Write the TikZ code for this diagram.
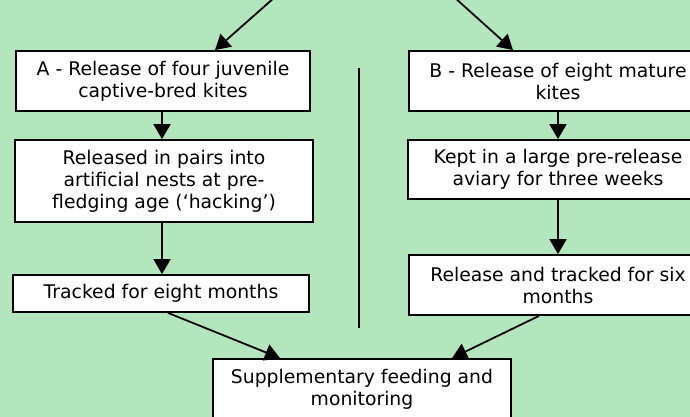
\documentclass[tikz,border=0pt]{standalone}
\usepackage{fontspec}
\setmainfont{DejaVu Sans}
\usetikzlibrary{arrows.meta}
\definecolor{bggreen}{RGB}{180,230,189}

\begin{document}
\begin{tikzpicture}[x=1pt,y=-1pt,
	box/.style={draw,line width=1.8pt,fill=white,align=center,inner sep=0pt,font=\fontsize{18.8}{22}\selectfont},
	arr/.style={line width=1.8pt,-{Triangle[length=15pt,width=17pt]}}]
	
	\useasboundingbox (0,0) rectangle (690,417);
	\clip (0,0) rectangle (690,417);
	\fill[bggreen] (0,0) rectangle (690,417);
	
	% route A
	\node[box,minimum width=294pt,minimum height=60pt] at (163,81) (a1) {A - Release of four juvenile\\captive-bred kites};
	\node[box,minimum width=298pt,minimum height=82pt] at (164,181) (a2) {Released in pairs into\\artificial nests at pre-\\fledging age (‘hacking’)};
	\node[box,minimum width=296pt,minimum height=37pt] at (161,293.5) (a3) {Tracked for eight months};
	
	% route B
	\node[box,minimum width=298pt,minimum height=60pt] at (558,81) (b1) {B - Release of eight mature\\kites};
	\node[box,minimum width=300pt,minimum height=59pt] at (558,169.5) (b2) {Kept in a large pre-release\\aviary for three weeks};
	\node[box,minimum width=298pt,minimum height=60pt] at (558,285) (b3) {Release and tracked for six\\months};
	
	\node[box,minimum width=298pt,minimum height=60pt] at (362,389) (c) {Supplementary feeding and\\monitoring};
	
	\coordinate (topa) at (275,-3);
	\coordinate (topb) at (454,-3);
	
	\draw[arr] (topa) -- ([xshift=52pt]a1.north);
	\draw[arr] (topb) -- ([xshift=-45pt]b1.north);
	\draw[arr] ([xshift=-1pt]a1.south) -- ([xshift=-1pt]a1.south |- a2.north);
	\draw[arr] ([xshift=-2pt]a2.south) -- ([xshift=-2pt]a2.south |- a3.north);
	\draw[arr] (b1) -- (b2);
	\draw[arr] (b2) -- (b3);
	\draw[arr] ([xshift=7pt]a3.south) -- ([xshift=-82pt]c.north);
	\draw[arr] ([xshift=-19pt]b3.south) -- ([xshift=90pt]c.north);
	
	\draw[line width=1.8pt] (359,68) -- (359,328);
\end{tikzpicture}
\end{document}
